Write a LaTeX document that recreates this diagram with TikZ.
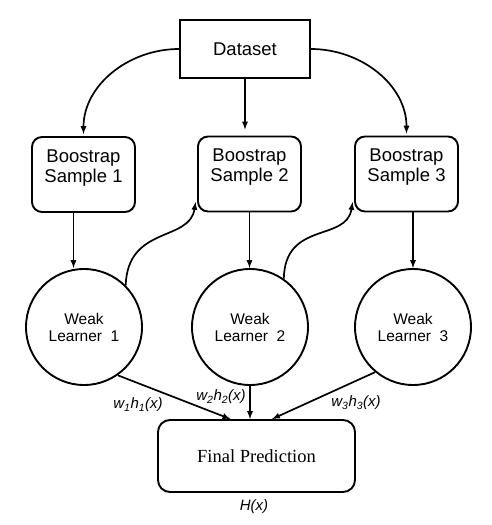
\documentclass[tikz,border=0pt]{standalone}
\usepackage{fontspec}
\setmainfont{Liberation Sans}
\newfontfamily\predfont{Liberation Serif}
\usetikzlibrary{arrows,calc,shapes}
\tikzset{>=latex}
\tikzstyle{dataset}=[rectangle,draw=black,line width=1.9pt,minimum width=130pt,minimum height=58pt,font=\fontsize{18.5}{20}\selectfont]
\tikzstyle{sample}=[rectangle,draw=black,line width=1.9pt,rounded corners=10pt,minimum width=103pt,minimum height=75pt,align=center,text depth=17pt,font=\fontsize{18.5}{20}\selectfont]
\tikzstyle{learner}=[circle,draw=black,line width=1.9pt,minimum size=116pt,inner sep=0pt,align=center,font=\fontsize{15.5}{17}\selectfont]
\tikzstyle{final}=[rectangle,draw=black,line width=1.9pt,rounded corners=12pt,minimum width=197pt,minimum height=72pt,font=\predfont\fontsize{18.5}{20}\selectfont]
\tikzstyle{weight}=[inner sep=0pt,font=\itshape\fontsize{15}{17}\selectfont]
\tikzstyle{link}=[->,line width=1.7pt]

\begin{document}
\begin{tikzpicture}[x=1pt,y=-1pt]
	\useasboundingbox (0,0) rectangle (491,525);
	\node[dataset] (data) at (245, 49) {Dataset};
	\node[sample] (sample1) at (83.5, 174.5) {Boostrap\\Sample 1};
	\node[sample] (sample2) at (249.5, 174) {Boostrap\\Sample 2};
	\node[sample] (sample3) at (406.5, 174) {Boostrap\\Sample 3};
	\node[learner] (learner1) at (84, 327) {Weak\\Learner~ 1};
	\node[learner] (learner2) at (250, 327) {Weak\\Learner~ 2};
	\node[learner] (learner3) at (413, 327) {Weak\\Learner~ 3};
	\node[final] (pred) at (256.5, 456) {Final Prediction};
	
	\node[weight] (weight1) at (138, 405) {w\textsubscript{1}h\textsubscript{1}(x)};
	\node[weight] (weight2) at (221, 397) {w\textsubscript{2}h\textsubscript{2}(x)};
	\node[weight] (weight3) at (356, 403) {w\textsubscript{3}h\textsubscript{3}(x)};
	\node[weight] (output) at (254, 507) {H(x)};
	
	\draw[link, shorten >=2pt] (data.west) to[out=180, in=90] (sample1.north);
	\draw[link, shorten >=6pt] (data.south) -- (data.south |- sample2.north);
	\draw[link, shorten >=2pt] (data.east) to[out=0, in=90] (sample3.north);
	
	\draw[link] ([xshift=-10pt]sample1.south) -- ([xshift=-10pt]sample1.south |- learner1.north);
	\draw[link] (sample2.south) -- (sample2.south |- learner2.north);
	\draw[link] ([xshift=6.5pt]sample3.south) -- ([xshift=6.5pt]sample3.south |- learner3.north);
	
	\draw[link] (learner1.45) .. controls +(2,-60) and +(-6,40) .. ([xshift=-1.5pt,yshift=-28pt]sample2.west);
	\draw[link] (learner2.55) .. controls +(1,-58) and +(-6,40) .. ([xshift=-1.5pt,yshift=-28pt]sample3.west);
	
	\draw[link] (learner1.-55) -- ([xshift=-26pt]pred.north);
	\draw[link] (learner2.south) -- (learner2.south |- pred.north);
	\draw[link] (learner3.-130) -- ([xshift=15.5pt]pred.north);
\end{tikzpicture}
\end{document}
